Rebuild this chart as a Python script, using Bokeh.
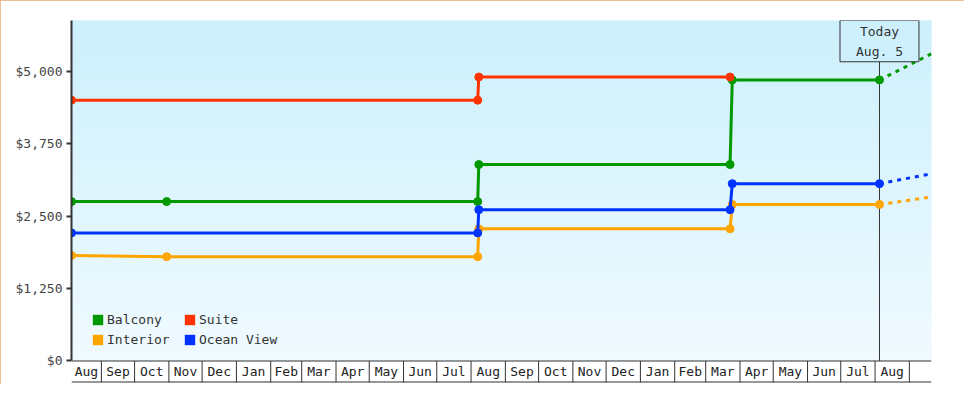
#Cruise cabin price tracker: price history per cabin type with projection past today

import numpy as np
import pandas as pd
from bokeh.plotting import figure
from bokeh.models import (Range1d, FixedTicker, NumeralTickFormatter, Legend,
                          LegendItem, Label, Span)
from bokeh.core.properties import value
from bokeh.embed import file_html
from bokeh.resources import INLINE

FONT = "DejaVu Sans Mono"

# price history (one point per price change)
balcony_dates = ["2012-08-05", "2012-10-30", "2013-08-07", "2013-08-08", "2014-03-23", "2014-03-25", "2014-08-05"]
balcony_prices = [2750, 2750, 2750, 3390, 3390, 4850, 4850]

interior_dates = ["2012-08-05", "2012-10-30", "2013-08-07", "2013-08-08", "2014-03-23", "2014-03-25", "2014-08-05"]
interior_prices = [1820, 1800, 1800, 2280, 2280, 2700, 2700]

ocean_dates = ["2012-08-05", "2013-08-07", "2013-08-08", "2014-03-23", "2014-03-25", "2014-08-05"]
ocean_prices = [2210, 2210, 2610, 2610, 3060, 3060]

suite_dates = ["2012-08-05", "2013-08-07", "2013-08-08", "2014-03-23"]
suite_prices = [4500, 4500, 4900, 4900]

# projected prices after today
projection_dates = ["2014-08-05", "2014-09-21"]
balcony_projection = [4850, 5300]
interior_projection = [2700, 2830]
ocean_projection = [3060, 3230]

today = "2014-08-05"
today_text = "Today\nAug. 5"

month_labels = ["Aug", "Sep", "Oct", "Nov", "Dec", "Jan", "Feb", "Mar", "Apr", "May", "Jun", "Jul",
                "Aug", "Sep", "Oct", "Nov", "Dec", "Jan", "Feb", "Mar", "Apr", "May", "Jun", "Jul", "Aug"]
price_ticks = [0, 1250, 2500, 3750, 5000]

x_start = pd.Timestamp("2012-08-05")
x_end = pd.Timestamp("2014-09-21")
y_start, y_end = -371, 5875

p = figure(width=964, height=384, x_axis_type="datetime",
           x_range=Range1d(x_start, x_end), y_range=Range1d(y_start, y_end),
           output_backend="svg", toolbar_location=None,
           min_border_left=71, min_border_right=33, min_border_top=20, min_border_bottom=2)
p.styles = {"outline": "1px solid #e6aa70", "outline-offset": "-1px"}
p.background_fill_color = "white"
p.border_fill_color = "white"
p.outline_line_color = None
p.grid.visible = False

# background gradient above $0
n = 60
edges = np.linspace(0, y_end, n + 1)
bottom_rgb = np.array([240, 250, 255])
top_rgb = np.array([204, 240, 252])
t = (np.arange(n) + 0.5) / n
cols = ["#%02x%02x%02x" % tuple(int(round(v)) for v in bottom_rgb + (top_rgb - bottom_rgb) * ti) for ti in t]
p.quad(left=[x_start] * n, right=[x_end] * n, bottom=edges[:-1], top=edges[1:],
       fill_color=cols, line_color=cols, line_width=1)

# month band under the chart
boundaries = pd.date_range("2012-09-01", periods=len(month_labels), freq="MS")
cell_edges = [x_start] + list(boundaries)
centers = [cell_edges[i] + (cell_edges[i + 1] - cell_edges[i]) / 2 for i in range(len(month_labels))]
p.segment(x0=boundaries, y0=y_start, x1=boundaries, y1=0, line_color="#333333", line_width=1)
p.text(x=centers, y=[y_start / 2] * len(centers), text=month_labels, text_align="center",
       text_baseline="middle", text_font=value(FONT), text_font_size="13px", text_color="#222222")
p.add_layout(Span(location=0, dimension="width", line_color="#333333", line_width=1))
p.add_layout(Span(location=y_start, dimension="width", line_color="#333333", line_width=2))

# today marker line
p.segment(x0=[pd.Timestamp(today)], y0=[0], x1=[pd.Timestamp(today)], y1=[y_end],
          line_color="#333333", line_width=1)

series = [
    ("Balcony", balcony_dates, balcony_prices, balcony_projection, "#009900"),
    ("Interior", interior_dates, interior_prices, interior_projection, "#ffa500"),
    ("Ocean View", ocean_dates, ocean_prices, ocean_projection, "#0033ff"),
    ("Suite", suite_dates, suite_prices, None, "#ff3300"),
]
swatches = {}
for name, dates, prices, proj, color in series:
    d = pd.to_datetime(dates)
    if proj is not None:
        p.line(pd.to_datetime(projection_dates), proj, line_color=color, line_width=3, line_dash="4 5")
    p.line(d, prices, line_color=color, line_width=3)
    p.scatter(d, prices, size=8, color=color)
    swatches[name] = p.quad(left=[np.nan], right=[np.nan], top=[np.nan], bottom=[np.nan],
                            fill_color=color, line_color=None)

legend = Legend(items=[LegendItem(label=k, renderers=[swatches[k]])
                       for k in ["Balcony", "Suite", "Interior", "Ocean View"]],
                orientation="horizontal", nrows=2, location=(20, 33),
                padding=0, margin=0, spacing=0, label_width=76, label_height=20,
                glyph_width=13, glyph_height=13, label_standoff=3,
                label_text_font=FONT, label_text_font_size="13px", label_text_color="#333333",
                border_line_color=None, background_fill_alpha=0)
p.add_layout(legend)

p.add_layout(Label(x=pd.Timestamp(today), y=y_end, text=today_text, anchor="top_center",
                   text_align="center", padding=(16, 3), text_font=FONT, text_font_size="13px",
                   text_color="#333333", text_line_height=1.35,
                   border_line_color="#333333", border_line_width=1,
                   background_fill_color="#cdf0fc"))

p.xaxis.visible = False

p.yaxis.bounds = (0, y_end)
p.yaxis.ticker = FixedTicker(ticks=price_ticks)
p.yaxis.formatter = NumeralTickFormatter(format="$0,0")
p.yaxis.axis_line_color = "#333333"
p.yaxis.axis_line_width = 2
p.yaxis.major_tick_line_color = "#333333"
p.yaxis.major_tick_line_width = 2
p.yaxis.major_tick_out = 5
p.yaxis.major_tick_in = 0
p.yaxis.minor_tick_line_color = None
p.yaxis.major_label_standoff = 4
p.yaxis.major_label_text_font = FONT
p.yaxis.major_label_text_font_size = "13px"
p.yaxis.major_label_text_color = "#444444"

open("out.html", "w").write(file_html(p, INLINE))
